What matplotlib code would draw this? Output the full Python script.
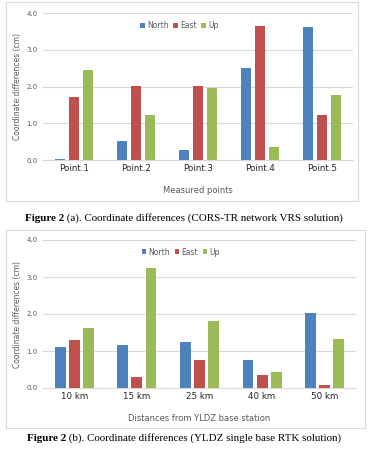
import matplotlib

matplotlib.use("Agg")
import matplotlib.pyplot as plt
import numpy as np
from matplotlib.patches import Rectangle

series = ["North", "East", "Up"]
colors = ["#4F81BD", "#C0504D", "#9BBB59"]

points_a = ["Point.1", "Point.2", "Point.3", "Point.4", "Point.5"]
north_a = [0.03, 0.51, 0.27, 2.51, 3.62]
east_a = [1.73, 2.01, 2.01, 3.65, 1.22]
up_a = [2.45, 1.22, 1.96, 0.35, 1.76]

points_b = ["10 km", "15 km", "25 km", "40 km", "50 km"]
north_b = [1.10, 1.17, 1.23, 0.76, 2.04]
east_b = [1.29, 0.29, 0.76, 0.35, 0.08]
up_b = [1.61, 3.23, 1.81, 0.42, 1.33]

yticks = [0.0, 1.0, 2.0, 3.0, 4.0]

W, H = 377, 450
fig = plt.figure(figsize=(W / 100, H / 100), dpi=100)
fig.patch.set_facecolor("white")


def px_axes(x0, x1, ytop, ybot):
    return fig.add_axes([x0 / W, 1 - ybot / H, (x1 - x0) / W, (ybot - ytop) / H])


def panel(ax, cats, values, xlabel):
    x = np.arange(len(cats))
    width = 0.175
    step = 0.225
    for i, (name, vals, c) in enumerate(zip(series, values, colors)):
        ax.bar(x + (i - 1) * step, vals, width, color=c, label=name, zorder=3)
    ax.set_ylim(0, 4.0)
    ax.set_xlim(-0.5, len(cats) - 0.5)
    ax.set_yticks(yticks)
    ax.set_yticklabels([f"{v:.1f}" for v in yticks], color="#595959", fontsize=5)
    ax.set_xticks(x)
    ax.set_xticklabels(cats, fontsize=6.3, color="#262626")
    ax.tick_params(length=0, pad=3)
    ax.tick_params(axis="y", pad=4)
    ax.grid(axis="y", color="#D9D9D9", linewidth=0.8, zorder=0)
    for s in ("top", "right", "left"):
        ax.spines[s].set_visible(False)
    ax.spines["bottom"].set_color("#D9D9D9")
    ax.set_ylabel("Coordinate differences (cm)", fontsize=5.5, color="#595959", labelpad=3)
    ax.set_xlabel(xlabel, fontsize=6, color="#595959", labelpad=9)
    ax.legend(loc="upper center", bbox_to_anchor=(0.44, 0.995), ncol=3, frameon=False,
              fontsize=5.5, handlelength=0.6, handleheight=0.6, handletextpad=0.3,
              columnspacing=0.6, labelcolor="#595959")


def caption(x, y, tag, rest):
    t = fig.text(x / W, 1 - y / H, tag, fontsize=7.9, fontweight="bold",
                 family="Liberation Serif", va="baseline")
    plt.annotate(rest, xy=(1, 0), xycoords=t, xytext=(0, 0), textcoords="offset points",
                 fontsize=7.9, family="Liberation Serif", va="bottom", annotation_clip=False)


fig.patches.append(Rectangle((6 / W, 1 - 201 / H), 352 / W, 199 / H, transform=fig.transFigure,
                             fill=False, edgecolor="#D9D9D9", linewidth=0.8))
fig.patches.append(Rectangle((6 / W, 1 - 428 / H), 359 / W, 198 / H, transform=fig.transFigure,
                             fill=False, edgecolor="#D9D9D9", linewidth=0.8))

ax1 = px_axes(43, 353, 13.3, 160)
panel(ax1, points_a, [north_a, east_a, up_a], "Measured points")

ax2 = px_axes(43, 356, 240, 388)
panel(ax2, points_b, [north_b, east_b, up_b], "Distances from YLDZ base station")

caption(25, 221, "Figure 2", " (a). Coordinate differences (CORS-TR network VRS solution)")
caption(27, 441, "Figure 2", " (b). Coordinate differences (YLDZ single base RTK solution)")

fig.savefig("out.png", dpi=100)
